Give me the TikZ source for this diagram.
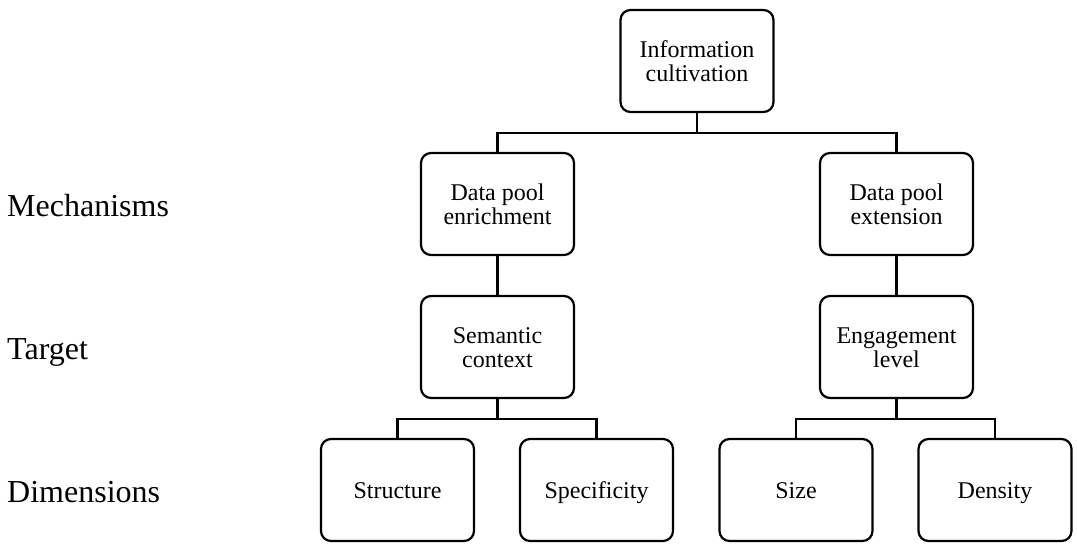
\documentclass[tikz,border=0pt]{standalone}
\usepackage{fontspec}
\setmainfont{Liberation Serif}
\begin{document}
\begin{tikzpicture}[x=1pt,y=-1pt,
  box/.style={draw, line width=2.2pt, rounded corners=10pt, rectangle,
    minimum width=153pt, minimum height=102pt, align=center,
    font=\fontsize{24}{24}\selectfont, inner sep=2pt,
    text height=16pt, text depth=0pt},
  twoline/.style={text height=40pt},
  link/.style={line width=2.6pt},
  rowlabel/.style={anchor=base west, inner sep=0pt, font=\fontsize{32}{36}\selectfont}]
\useasboundingbox (0,0) rectangle (1077,550);

% tree boxes
\node[box,twoline] (root) at (697,61) {Information\\cultivation};
\node[box,twoline] (mechL) at (497.5,204) {Data pool\\enrichment};
\node[box,twoline] (mechR) at (896.5,204) {Data pool\\extension};
\node[box,twoline] (targL) at (497.5,347) {Semantic\\context};
\node[box,twoline] (targR) at (896.5,347) {Engagement\\level};
\node[box] (dim1) at (397.5,490) {Structure};
\node[box] (dim2) at (596.5,490) {Specificity};
\node[box] (dim3) at (796,490) {Size};
\node[box] (dim4) at (995,490) {Density};

% row labels
\node[rowlabel] (lmech) at (7,216) {Mechanisms};
\node[rowlabel] (ltarg) at (7,359) {Target};
\node[rowlabel] (ldim) at (7,502) {Dimensions};

% junction points of the elbow connectors
\coordinate (j0) at (697,133);
\coordinate (jL) at (497.5,419);
\coordinate (jR) at (896.5,419);

\draw[link] (root.south) -- (j0);
\draw[link] (mechL.north) |- (j0) -| (mechR.north);
\draw[link] (mechL.south) -- (targL.north);
\draw[link] (mechR.south) -- (targR.north);
\draw[link] (targL.south) -- (jL);
\draw[link] (dim1.north) |- (jL) -| (dim2.north);
\draw[link] (targR.south) -- (jR);
\draw[link] (dim3.north) |- (jR) -| (dim4.north);
\end{tikzpicture}
\end{document}
